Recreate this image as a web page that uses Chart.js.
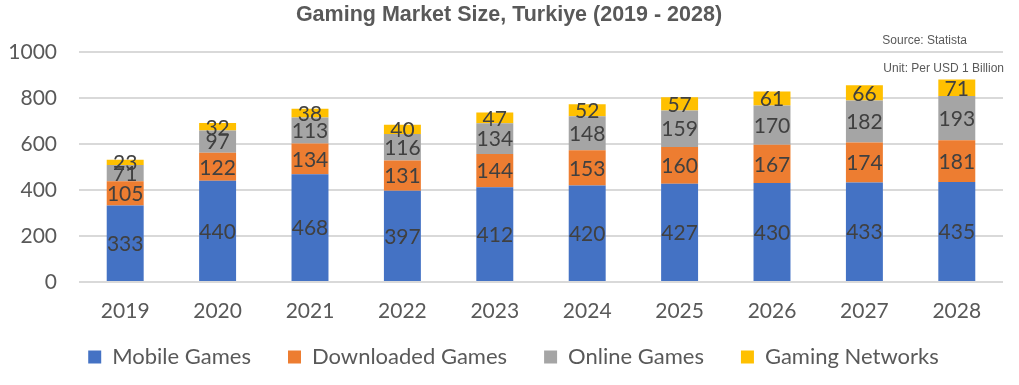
<!DOCTYPE html>
<html>
<head>
<meta charset="utf-8">
<script src="https://cdn.jsdelivr.net/npm/chart.js@4/dist/chart.umd.min.js"></script>
<style>
    html, body { margin: 0; padding: 0; background: #fff; }
    #wrap { width: 1019px; height: 385px; }
</style>
</head>
<body>
<div id="wrap"><canvas id="chart"></canvas></div>
<script>
    const years = ['2019', '2020', '2021', '2022', '2023', '2024', '2025', '2026', '2027', '2028'];
    const mobileGames = [333, 440, 468, 397, 412, 420, 427, 430, 433, 435];
    const downloadedGames = [105, 122, 134, 131, 144, 153, 160, 167, 174, 181];
    const onlineGames = [71, 97, 113, 116, 134, 148, 159, 170, 182, 193];
    const gamingNetworks = [23, 32, 38, 40, 47, 52, 57, 61, 66, 71];

    const textColor = '#595959';
    const labelColor = '#404040';
    const gridColor = '#d9d9d9';
    const bodyFont = 'Lato, "Open Sans", sans-serif';
    const narrowFont = '"Liberation Sans Narrow", "Arial Narrow", sans-serif';

    // values written in the middle of each segment
    const segmentLabels = {
        id: 'segmentLabels',
        afterDatasetsDraw: function (chart) {
            const ctx = chart.ctx;
            ctx.save();
            ctx.font = '21px ' + bodyFont;
            ctx.fillStyle = labelColor;
            ctx.textAlign = 'center';
            ctx.textBaseline = 'middle';
            chart.data.datasets.forEach(function (ds, i) {
                const meta = chart.getDatasetMeta(i);
                meta.data.forEach(function (bar, j) {
                    const yMid = (bar.y + bar.base) / 2;
                    ctx.fillText(String(ds.data[j]), bar.x, yMid + 1);
                });
            });
            ctx.restore();
        }
    };

    // title plus source / unit notes
    const notes = {
        id: 'notes',
        afterDraw: function (chart) {
            const ctx = chart.ctx;
            ctx.save();
            ctx.fillStyle = textColor;
            ctx.textBaseline = 'middle';
            ctx.textAlign = 'center';
            ctx.font = 'bold 21.5px ' + narrowFont;
            ctx.fillText('Gaming Market Size, Turkiye (2019 - 2028)', 509, 15);
            ctx.textAlign = 'right';
            ctx.font = '12px ' + narrowFont;
            ctx.fillText('Source: Statista', 967, 41);
            ctx.fillText('Unit: Per USD 1 Billion', 1004, 69);
            ctx.restore();
        }
    };

    // move the legend up and right, closer to the year labels
    const legendShift = {
        id: 'legendShift',
        afterLayout: function (chart) {
            const lg = chart.legend;
            if (lg) {
                lg.top -= 32;
                lg.bottom -= 32;
                lg.left += 12;
                lg.right += 12;
            }
        }
    };

    function dataset(label, data, color) {
        return {
            label: label,
            data: data,
            backgroundColor: color,
            borderWidth: 0,
            categoryPercentage: 1,
            barPercentage: 0.4
        };
    }

    new Chart(document.getElementById('chart').getContext('2d'), {
        type: 'bar',
        data: {
            labels: years,
            datasets: [
                dataset('Mobile Games', mobileGames, '#4472c4'),
                dataset('Downloaded Games', downloadedGames, '#ed7d31'),
                dataset('Online Games', onlineGames, '#a5a5a5'),
                dataset('Gaming Networks', gamingNetworks, '#ffc000')
            ]
        },
        options: {
            responsive: true,
            maintainAspectRatio: false,
            animation: false,
            layout: {
                padding: { left: 0, right: 16, top: 52, bottom: -25 }
            },
            plugins: {
                title: { display: false },
                legend: {
                    position: 'bottom',
                    labels: {
                        color: textColor,
                        font: { family: bodyFont, size: 22 },
                        boxWidth: 13,
                        boxHeight: 13,
                        padding: 37
                    }
                },
                tooltip: { enabled: false }
            },
            scales: {
                x: {
                    stacked: true,
                    grid: { display: false, drawTicks: false },
                    border: { display: false },
                    ticks: {
                        color: textColor,
                        font: { family: bodyFont, size: 21, lineHeight: 1 },
                        padding: 19
                    }
                },
                y: {
                    stacked: true,
                    min: 0,
                    max: 1000,
                    grid: { color: gridColor, lineWidth: 2, drawTicks: false },
                    border: { display: false },
                    ticks: {
                        stepSize: 200,
                        color: textColor,
                        font: { family: bodyFont, size: 21 },
                        padding: 22,
                        callback: function (value) {
                            return String(value);
                        }
                    },
                    afterFit: function (scale) {
                        scale.width = 79;
                    }
                }
            }
        },
        plugins: [segmentLabels, notes, legendShift]
    });
</script>
</body>
</html>
